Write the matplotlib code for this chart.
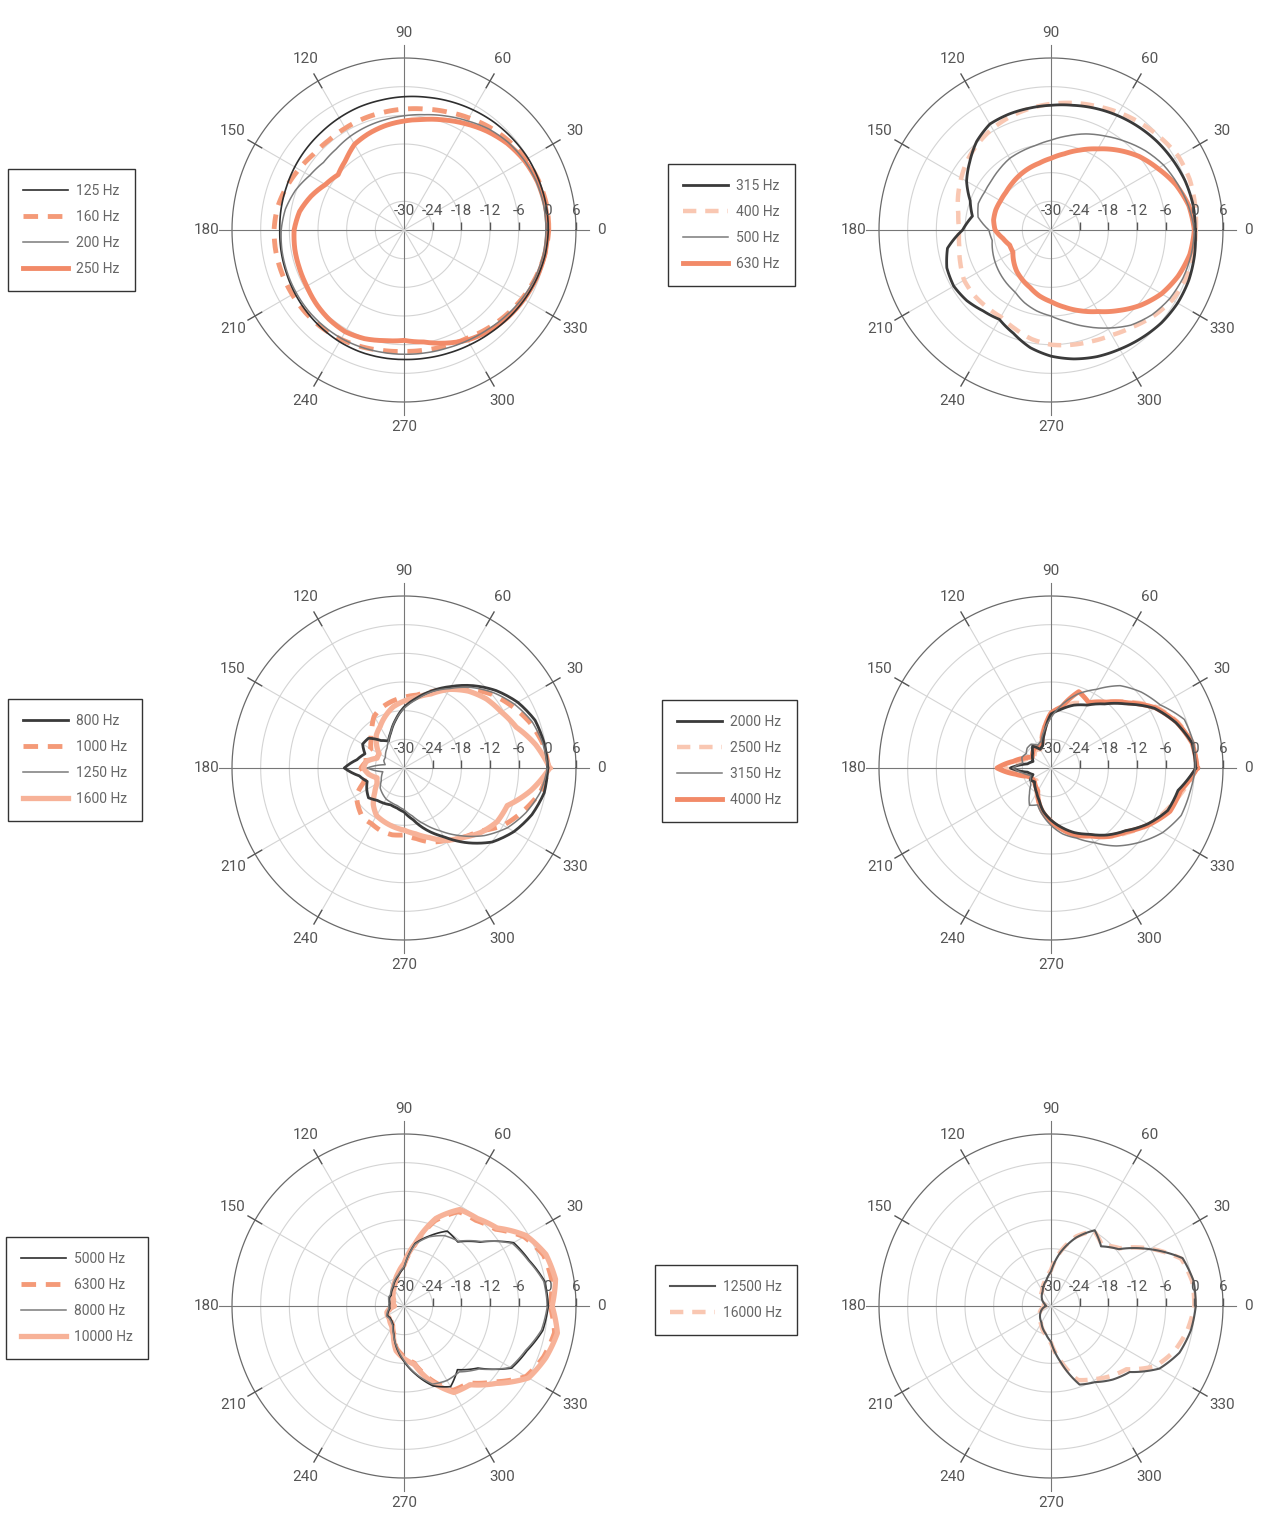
import numpy as np
import matplotlib.pyplot as plt
from matplotlib.lines import Line2D

plt.rcParams['font.family'] = ['Roboto', 'DejaVu Sans']

# measurement angles (degrees), one value every 10 degrees
angles = np.arange(0, 360, 10)

# level in dB (0..350 deg)
hz125 = [0.2, 0.2, 0.1, 0.0, -0.3, -0.6, -1.0, -1.4, -1.8, -2.1, -2.4, -2.6, -2.9, -3.2, -3.4, -3.6, -3.8, -3.9,
         -4.0, -3.9, -3.8, -3.6, -3.4, -3.2, -3.0, -2.9, -2.9, -2.9, -2.8, -2.6, -2.3, -1.9, -1.4, -0.9, -0.4, 0.0]
hz160 = [0.3, 0.3, 0.0, -0.5, -1.2, -2.0, -2.9, -3.7, -4.3, -4.7, -5.0, -5.2, -5.4, -5.5, -5.3, -4.6, -3.8, -3.1,
         -2.8, -2.8, -2.9, -3.0, -3.1, -3.3, -3.6, -4.0, -4.4, -4.6, -4.5, -4.2, -3.8, -3.0, -2.2, -1.4, -0.7, -0.1]
hz200 = [-0.3, -0.3, -0.5, -0.9, -1.5, -2.4, -3.6, -4.6, -5.5, -6.1, -6.6, -7.0, -7.4, -7.9, -8.0, -7.2, -5.8, -4.8,
         -4.3, -4.1, -4.0, -3.9, -3.8, -3.8, -3.8, -3.9, -4.0, -4.0, -3.9, -3.7, -3.3, -2.8, -2.1, -1.4, -0.8, -0.4]
hz250 = [0.1, 0.0, -0.3, -0.9, -1.8, -3.0, -4.3, -5.5, -6.5, -7.2, -7.8, -8.5, -9.3, -11.0, -12.0, -11.0, -9.3, -7.8,
         -7.0, -6.8, -6.7, -6.5, -6.0, -5.6, -5.4, -5.8, -6.5, -6.9, -6.2, -4.8, -3.4, -2.4, -1.6, -1.0, -0.5, -0.1]

hz315 = [0.2, 0.2, -0.1, -0.6, -1.1, -1.7, -2.3, -2.9, -3.5, -3.9, -4.1, -4.2, -4.4, -5.8, -7.8, -9.6, -12.0, -13.3,
         -11.5, -8.0, -6.8, -6.5, -7.0, -7.9, -8.4, -7.0, -5.0, -3.6, -2.6, -1.8, -1.2, -0.5, 0.2, 0.6, 0.7, 0.5]
hz400 = [0.3, 0.6, 0.9, 0.8, 0.0, -0.8, -1.6, -2.4, -3.0, -3.6, -4.2, -4.8, -5.5, -6.3, -7.2, -8.3, -9.3, -10.3,
         -10.8, -10.5, -9.8, -9.0, -8.9, -9.0, -9.0, -8.0, -6.8, -6.0, -5.6, -5.2, -4.6, -3.5, -2.0, -0.7, 0.0, 0.2]
hz500 = [0.0, -0.8, -1.8, -2.8, -4.2, -5.8, -7.3, -8.6, -10.0, -11.2, -12.0, -12.4, -12.7, -13.3, -13.8, -14.0, -13.8, -14.5,
         -17.0, -17.5, -17.0, -16.5, -16.0, -15.5, -15.0, -13.8, -12.8, -12.0, -10.5, -8.5, -6.3, -4.0, -2.4, -1.3, -0.6, -0.2]
hz630 = [0.0, -0.7, -2.2, -4.2, -6.0, -8.2, -10.4, -12.2, -13.8, -15.0, -15.8, -16.3, -16.8, -17.3, -17.7, -17.8, -17.7, -17.8,
         -18.3, -19.8, -20.8, -20.8, -19.8, -18.8, -18.0, -17.2, -16.0, -15.0, -13.6, -12.0, -10.3, -8.0, -5.5, -3.3, -1.7, -0.5]

hz800 = [0.1, -0.2, -0.8, -2.5, -4.8, -7.5, -10.3, -12.8, -15.2, -17.3, -19.8, -22.0, -23.5, -22.5, -20.3, -20.0, -21.3, -20.0,
         -17.5, -20.5, -21.8, -21.0, -20.3, -21.2, -21.5, -21.8, -21.5, -20.8, -19.0, -16.2, -13.4, -9.6, -5.9, -3.4, -1.5, -0.2]
hz1000 = [0.3, -0.5, -2.0, -4.0, -6.0, -8.5, -11.0, -13.0, -14.5, -15.2, -15.8, -16.5, -17.5, -19.5, -21.0, -22.0, -21.5, -22.0,
          -21.0, -22.0, -21.0, -18.5, -17.5, -16.5, -16.5, -16.0, -15.8, -16.0, -15.0, -13.5, -12.5, -11.0, -9.5, -6.0, -3.5, -1.0]
hz1250 = [0.0, -0.5, -1.5, -3.3, -5.5, -8.0, -10.8, -13.0, -15.5, -17.5, -19.8, -22.0, -23.5, -24.5, -25.0, -25.5, -25.5, -26.0,
          -22.3, -25.5, -25.0, -24.5, -23.5, -23.0, -22.5, -22.3, -22.0, -21.3, -19.8, -17.5, -14.8, -11.5, -8.0, -5.0, -2.8, -1.0]
hz1600 = [0.5, -2.0, -5.0, -6.5, -7.5, -9.0, -11.0, -13.5, -15.0, -16.0, -17.0, -18.5, -20.0, -21.0, -22.5, -24.0, -24.0, -22.0,
          -21.5, -22.5, -24.0, -23.5, -22.0, -20.0, -18.5, -18.0, -17.5, -17.0, -16.0, -14.5, -12.5, -11.0, -9.0, -7.5, -7.0, -3.0]

hz2000 = [0.3, 0.0, -2.2, -5.0, -9.2, -12.5, -14.8, -16.0, -17.5, -18.7, -22.4, -25.0, -25.5, -24.0, -25.0, -25.5, -26.0, -25.0,
          -21.5, -25.0, -26.0, -25.0, -25.5, -24.8, -24.0, -22.8, -20.8, -19.1, -17.4, -15.6, -14.0, -11.7, -9.6, -6.6, -4.0, -3.0]
hz2500 = [0.5, 0.2, -1.8, -4.5, -8.5, -12.0, -14.5, -15.5, -17.0, -18.5, -21.5, -24.0, -25.5, -25.0, -25.5, -26.0, -24.5, -23.0,
          -20.5, -23.5, -25.0, -25.5, -26.0, -25.0, -24.0, -22.5, -20.5, -19.0, -17.0, -15.2, -13.5, -11.2, -9.0, -6.2, -4.3, -2.0]
hz3150 = [0.2, 0.3, -0.3, -3.6, -5.3, -7.5, -11.0, -13.5, -16.5, -19.5, -22.0, -24.0, -24.5, -23.5, -23.5, -24.0, -23.5, -24.0,
          -22.0, -24.0, -25.5, -25.0, -24.5, -23.0, -21.0, -21.8, -20.0, -18.0, -16.0, -14.4, -12.0, -8.7, -5.8, -3.0, -1.0, -0.5]
hz4000 = [0.6, 0.0, -2.0, -4.8, -8.8, -12.0, -14.2, -13.0, -17.0, -18.5, -21.8, -24.5, -25.0, -24.5, -25.0, -25.5, -24.0, -22.0,
          -18.7, -22.5, -25.0, -25.5, -25.5, -25.0, -24.5, -22.5, -20.5, -18.8, -17.0, -15.0, -13.6, -11.3, -9.3, -6.3, -3.5, -2.5]

hz5000 = [0.2, -0.1, -2.1, -3.5, -9.2, -12.5, -11.9, -14.4, -16.7, -22.0, -23.5, -24.5, -25.5, -26.0, -26.5, -26.5, -26.8, -27.0,
          -27.0, -27.0, -26.5, -26.0, -26.2, -26.0, -25.5, -23.8, -21.1, -18.4, -15.4, -12.2, -10.5, -12.6, -9.8, -4.0, -2.6, -0.5]
hz6300 = [0.6, 1.4, 1.1, -1.0, -5.0, -6.6, -7.2, -11.0, -17.0, -21.5, -23.3, -24.8, -25.8, -26.8, -27.2, -27.6, -27.6, -27.6,
          -28.0, -27.2, -26.5, -26.3, -26.2, -25.8, -25.3, -23.8, -21.0, -19.4, -17.9, -13.6, -9.6, -9.0, -5.3, -0.5, 1.1, 2.0]
hz8000 = [0.0, -0.3, -2.3, -3.8, -9.0, -12.3, -13.0, -14.6, -16.9, -21.8, -23.3, -24.3, -25.3, -25.8, -26.3, -26.3, -26.6, -26.8,
          -26.8, -26.8, -26.3, -25.8, -26.0, -25.8, -25.3, -23.6, -21.3, -18.6, -15.6, -12.6, -12.0, -12.0, -9.5, -4.3, -2.9, -0.8]
hz10000 = [1.0, 2.2, 1.6, -0.5, -4.6, -6.1, -6.7, -10.5, -16.8, -21.1, -23.0, -24.5, -25.5, -26.5, -27.0, -27.5, -27.5, -27.5,
           -28.0, -27.0, -26.2, -26.0, -26.0, -25.5, -25.0, -23.5, -20.5, -19.0, -17.6, -13.1, -9.1, -8.5, -4.8, 0.1, 1.6, 2.6]

hz12500 = [0.3, 0.3, -0.7, -6.2, -11.5, -13.7, -11.7, -14.8, -18.6, -22.8, -24.5, -25.5, -26.5, -27.0, -27.5, -28.0, -28.5, -28.8,
           -29.0, -28.5, -28.0, -27.5, -27.0, -26.5, -26.0, -25.0, -24.0, -22.5, -18.0, -12.5, -11.6, -9.9, -8.5, -3.8, -1.4, -0.3]
hz16000 = [0.0, 0.0, -1.0, -6.0, -11.2, -13.4, -11.9, -14.5, -18.4, -22.5, -24.3, -25.3, -26.3, -26.8, -27.3, -27.8, -28.3, -28.6,
           -28.8, -28.3, -27.8, -27.3, -26.8, -26.3, -25.8, -24.8, -23.8, -22.3, -18.3, -13.5, -12.3, -10.8, -9.4, -4.8, -2.5, -1.0]

# line styles (z: dark lines are drawn over the orange ones)
BLACK = dict(color='#2e2e2e', lw=1.2)
BLACK_THICK = dict(color='#3a3a3a', lw=2.0)
GRAY = dict(color='#7a7a7a', lw=1.1)
GRAY_MED = dict(color='#555555', lw=1.5)
OR_DASH = dict(color='#f49a78', lw=3.5, ls=(0, (3, 2)))
OR_LIGHT_DASH = dict(color='#f9c7b2', lw=3.2, ls=(0, (3, 2)))
OR_SOLID = dict(color='#f28a68', lw=3.5)
OR_LIGHT = dict(color='#f7b298', lw=3.8)
DARK = [BLACK, BLACK_THICK, GRAY, GRAY_MED]

# (panel centre in pixels, legend left / centre in pixels, curves)
panels = [
    ((404, 230), (8, 230), [('125 Hz', hz125, BLACK), ('160 Hz', hz160, OR_DASH),
                            ('200 Hz', hz200, GRAY), ('250 Hz', hz250, OR_SOLID)]),
    ((1051, 230), (668, 225), [('315 Hz', hz315, BLACK_THICK), ('400 Hz', hz400, OR_LIGHT_DASH),
                               ('500 Hz', hz500, GRAY), ('630 Hz', hz630, OR_SOLID)]),
    ((404, 768), (8, 760), [('800 Hz', hz800, BLACK_THICK), ('1000 Hz', hz1000, OR_DASH),
                            ('1250 Hz', hz1250, GRAY), ('1600 Hz', hz1600, OR_LIGHT)]),
    ((1051, 768), (662, 761), [('2000 Hz', hz2000, BLACK_THICK), ('2500 Hz', hz2500, OR_LIGHT_DASH),
                               ('3150 Hz', hz3150, GRAY), ('4000 Hz', hz4000, OR_SOLID)]),
    ((404, 1306), (6, 1298), [('5000 Hz', hz5000, BLACK), ('6300 Hz', hz6300, OR_DASH),
                              ('8000 Hz', hz8000, GRAY), ('10000 Hz', hz10000, OR_LIGHT)]),
    ((1051, 1306), (655, 1300), [('12500 Hz', hz12500, GRAY_MED),
                                 ('16000 Hz', hz16000, OR_LIGHT_DASH)]),
]

W, H = 1270, 1531
R = 172  # outer circle radius in pixels
rings = [-30, -24, -18, -12, -6, 0, 6]

fig = plt.figure(figsize=(W / 100, H / 100), dpi=100)


def draw_grid(ax):
    ax.set_ylim(-30, 6)
    ax.set_xticks([])
    ax.set_yticks([])
    ax.grid(False)
    ax.spines['polar'].set_visible(False)
    ax.patch.set_alpha(0)
    th = np.linspace(0, 2 * np.pi, 361)
    for r in rings[1:-1]:
        ax.plot(th, np.full_like(th, r), color='#d4d4d4', lw=0.8, zorder=1)
    ax.plot(th, np.full_like(th, 6.0), color='#6a6a6a', lw=0.9, zorder=1, clip_on=False)
    for a in range(0, 360, 30):
        t = np.radians(a)
        if a % 90 == 0:
            ax.plot([t, t], [-30, 8.8], color='#777777', lw=0.8, zorder=1, clip_on=False)
        else:
            ax.plot([t, t], [-30, 6], color='#d4d4d4', lw=0.8, zorder=1)
            ax.plot([t, t], [4.4, 7.7], color='#555555', lw=1.0, zorder=1, clip_on=False)
        ax.text(t, 11.3, str(a), ha='center', va='center', fontsize=11,
                color='#555555', clip_on=False)
    ax.plot(np.zeros(len(rings) - 1), rings[1:], ls='none', marker=2, ms=6,
            mew=1.0, color='#555555', zorder=5, clip_on=False)
    for r in rings:
        ax.annotate(str(r), xy=(0, r), xytext=(0, 14), textcoords='offset points',
                    ha='center', va='center', fontsize=11, color='#555555',
                    zorder=6, annotation_clip=False)


for (cx, cy), (lx, ly), curves in panels:
    ax = fig.add_axes([(cx - R) / W, (H - cy - R) / H, 2 * R / W, 2 * R / H],
                      projection='polar')
    draw_grid(ax)
    handles = []
    for label, vals, style in curves:
        th = np.radians(np.append(angles, 360))
        r = np.append(vals, vals[0])
        z = 4 if style in DARK else 3
        ln, = ax.plot(th, r, zorder=z, solid_joinstyle='round', **style)
        ln.get_path()._interpolation_steps = 12
        handles.append(Line2D([], [], **style))
    leg = fig.legend(handles, [c[0] for c in curves], loc='center left',
                     bbox_to_anchor=(lx / W, (H - ly) / H), bbox_transform=fig.transFigure,
                     fontsize=10, labelcolor='#666666', frameon=True, fancybox=False,
                     edgecolor='#333333', framealpha=1, handlelength=3.2,
                     handletextpad=0.6, labelspacing=0.85, borderpad=1.1,
                     borderaxespad=0)
    leg.get_frame().set_linewidth(1.0)

fig.savefig('out.png', dpi=100)
